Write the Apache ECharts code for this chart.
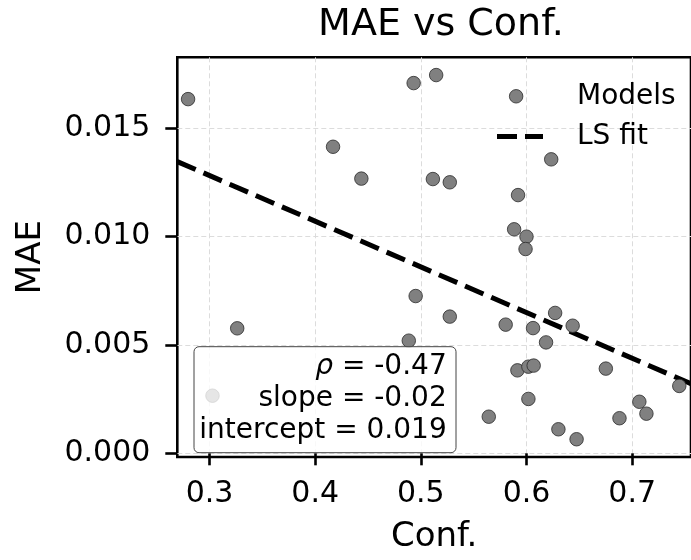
<!DOCTYPE html>
<html>
<head>
<meta charset="utf-8">
<script src="https://cdn.jsdelivr.net/npm/echarts@6/dist/echarts.min.js"></script>
<style>
html,body{margin:0;padding:0;background:#fff;}
#chart{width:691px;height:560px;}
</style>
</head>
<body>
<div id="chart"></div>
<script>
// ---- data ----
const conf = [0.2797, 0.4932, 0.5145, 0.5902, 0.4169, 0.6234, 0.4437, 0.5114, 0.5274, 0.5920,
              0.5883, 0.6000, 0.5991, 0.4951, 0.3262, 0.5274, 0.5803, 0.6062, 0.6271, 0.6437,
              0.6185, 0.4886, 0.5914, 0.6018, 0.6068, 0.6751, 0.7446, 0.6018, 0.5643, 0.6302,
              0.6474, 0.6880, 0.7068, 0.7135, 0.3028];
const mae  = [0.01635, 0.01709, 0.01746, 0.01648, 0.01415, 0.01357, 0.01268, 0.01266, 0.01251, 0.01192,
              0.01034, 0.01000, 0.00943, 0.00726, 0.00577, 0.00631, 0.00594, 0.00578, 0.00648, 0.00589,
              0.00512, 0.00520, 0.00383, 0.00400, 0.00405, 0.00391, 0.00311, 0.00251, 0.00169, 0.00111,
              0.00065, 0.00162, 0.00238, 0.00183, 0.00266];
const fitSlope = -0.02109;
const fitIntercept = 0.01915;
const xTicks = [0.3, 0.4, 0.5, 0.6, 0.7];
const yTicks = [0.000, 0.005, 0.010, 0.015];
const xRange = [0.2695, 0.7557];
const yRange = [-0.00017, 0.01828];
const statsLines = ['{i|ρ} = -0.47', 'slope = -0.02', 'intercept = 0.019'];
const titleText = 'MAE vs Conf.';
const xName = 'Conf.';
const yName = 'MAE';
const seriesNames = ['Models', 'LS fit'];

const points = conf.map((c, i) => [c, mae[i]]);
const fitLine = xRange.map(x => [x, fitSlope * x + fitIntercept]);

const FONT = 'DejaVu Sans';
const chart = echarts.init(document.getElementById('chart'), null, {renderer: 'canvas'});

const gridLine = {show: true, lineStyle: {color: '#dcdcdc', width: 1, type: [5, 3]}};

const option = {
  backgroundColor: '#ffffff',
  animation: false,
  title: {
    text: titleText, left: 436, top: 1, textAlign: 'center',
    textStyle: {fontFamily: FONT, fontSize: 38, fontWeight: 'normal', color: '#000'}
  },
  grid: {
    left: 177.3, right: -13, top: 57.3, bottom: 103,
    show: true, borderColor: '#000', borderWidth: 2.6, backgroundColor: 'transparent'
  },
  legend: [
    {
      data: [{name: seriesNames[0], icon: 'rect', itemStyle: {color: 'rgba(0,0,0,0)', borderWidth: 0}}],
      orient: 'vertical', left: 502, top: 83, padding: 0,
      itemWidth: 46, itemHeight: 14,
      textStyle: {fontFamily: FONT, fontSize: 28, color: '#000', padding: [0, 0, 0, 24]}
    },
    {
      data: [{name: seriesNames[1], icon: 'path://M0,0H20V5H0Z M28,0H46V5H28Z',
              itemStyle: {color: '#000', borderWidth: 0}}],
      orient: 'vertical', left: 497, top: 122.5, padding: 0,
      itemWidth: 46, itemHeight: 5,
      textStyle: {fontFamily: FONT, fontSize: 28, color: '#000', padding: [0, 0, 0, 29]}
    }
  ],
  xAxis: {
    type: 'value', min: xRange[0], max: xRange[1],
    name: xName, nameLocation: 'middle', nameGap: 63,
    nameTextStyle: {fontFamily: FONT, fontSize: 34, color: '#000'},
    axisLine: {show: false},
    axisTick: {show: true, customValues: xTicks, length: 12, lineStyle: {color: '#000', width: 2.6}},
    axisLabel: {customValues: xTicks, margin: 22, fontFamily: FONT, fontSize: 30, color: '#000',
                formatter: v => v.toFixed(1)},
    splitLine: gridLine
  },
  yAxis: {
    type: 'value', min: yRange[0], max: yRange[1],
    name: yName, nameLocation: 'middle', nameGap: 129, nameRotate: 90,
    nameTextStyle: {fontFamily: FONT, fontSize: 34, color: '#000'},
    axisLine: {show: false},
    axisTick: {show: true, customValues: yTicks, length: 12, lineStyle: {color: '#000', width: 2.6}},
    axisLabel: {customValues: yTicks, margin: 27, fontFamily: FONT, fontSize: 30, color: '#000',
                formatter: v => v.toFixed(3)},
    splitLine: gridLine
  },
  series: [
    {
      name: seriesNames[0], type: 'scatter', data: points, z: 5,
      symbol: 'circle', symbolSize: 13.5,
      itemStyle: {color: '#808080', borderColor: '#2a2a2a', borderWidth: 0.8, opacity: 1}
    },
    {
      name: seriesNames[1], type: 'line', data: fitLine, z: 3,
      symbol: 'none', showSymbol: false,
      lineStyle: {color: '#000', width: 5, type: [20, 8.5]},
      itemStyle: {color: '#000'}
    }
  ],
  graphic: [
    {
      type: 'rect', z: 100, zlevel: 0,
      shape: {x: 194, y: 346.7, width: 262, height: 106, r: 5},
      style: {fill: 'rgba(255,255,255,0.8)', stroke: '#444', lineWidth: 1}
    },
    ...statsLines.map((t, i) => ({
      type: 'text', z: 101, x: 446.7, y: 367 + i * 32,
      style: {
        text: t, align: 'right', verticalAlign: 'middle',
        fontFamily: FONT, fontSize: 28, fill: '#000',
        rich: {i: {fontFamily: FONT, fontStyle: 'italic', fontSize: 28, fill: '#000'}}
      }
    }))
  ]
};
chart.setOption(option);
</script>
</body>
</html>
